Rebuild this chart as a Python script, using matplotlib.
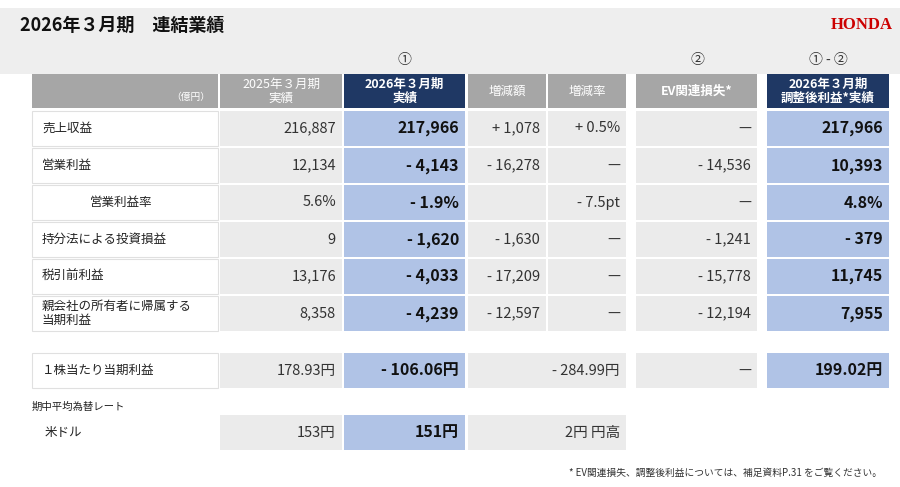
import matplotlib
matplotlib.use("Agg")
import matplotlib.pyplot as plt
from matplotlib.patches import Rectangle

plt.rcParams['font.family'] = ['Noto Sans CJK JP', 'DejaVu Sans']

title = "2026年３月期　連結業績"
headers = ["2025年３月期\n実績", "2026年３月期\n実績", "増減額", "増減率", "EV関連損失*", "2026年３月期\n調整後利益*実績"]
row_labels = ["売上収益", "営業利益", "営業利益率", "持分法による投資損益", "税引前利益", "親会社の所有者に帰属する\n当期利益"]
fy2025 = ["216,887", "12,134", "5.6%", "9", "13,176", "8,358"]
fy2026 = ["217,966", "- 4,143", "- 1.9%", "- 1,620", "- 4,033", "- 4,239"]
diff_amt = ["+ 1,078", "- 16,278", "", "- 1,630", "- 17,209", "- 12,597"]
diff_rate = ["+ 0.5%", "—", "- 7.5pt", "—", "—", "—"]
ev_loss = ["—", "- 14,536", "—", "- 1,241", "- 15,778", "- 12,194"]
adjusted = ["217,966", "10,393", "4.8%", "- 379", "11,745", "7,955"]
eps = ["178.93円", "- 106.06円", "- 284.99円", "—", "199.02円"]
fx = ["153円", "151円", "2円 円高"]

fig = plt.figure(figsize=(9, 4.87), dpi=100)
ax = fig.add_axes([0, 0, 1, 1])
ax.set_xlim(0, 900); ax.set_ylim(487, 0); ax.axis('off')

GRAY_H = "#a6a6a6"; NAVY = "#1f3864"; BODY = "#ebebeb"; BLUE = "#b0c3e6"

def rect(x0, y0, x1, y1, c, ec=None):
    ax.add_patch(Rectangle((x0, y0), x1 - x0, y1 - y0, facecolor=c, edgecolor=ec or 'none', lw=0.8))

# title band
rect(0, 8, 900, 74, "#eeeeee")
ax.text(20, 25, title, fontsize=13, fontweight='bold', va='center', color='#111')
ax.text(893, 25, "HONDA", fontsize=12, fontweight='bold', color='#cc0000', ha='right', va='center', family='Liberation Serif')
ax.text(404, 60, "①", fontsize=10, ha='center', va='center', color='#333')
ax.text(697, 60, "②", fontsize=10, ha='center', va='center', color='#333')
ax.text(828, 60, "① - ②", fontsize=10, ha='center', va='center', color='#333')

cols = [(220, 342), (344, 465), (468, 546), (548, 626), (636, 757), (767, 889)]
LX0, LX1 = 32, 218

# header
hy0, hy1 = 74, 108
rect(LX0, hy0, LX1, hy1, GRAY_H)
ax.text(210, 97, "（億円）", fontsize=7, color='white', ha='right', va='center')
for i, (x0, x1) in enumerate(cols):
    c = NAVY if i in (1, 5) else GRAY_H
    rect(x0, hy0, x1, hy1, c)
    ax.text((x0 + x1) / 2, (hy0 + hy1) / 2, headers[i], fontsize=9, color='white', ha='center', va='center',
            fontweight='bold' if i in (1, 4, 5) else 'normal', linespacing=1.1)

def vcell(i, y0, y1, txt, x1=None):
    x0, xe = cols[i]
    xe = x1 or xe
    blue = i in (1, 5)
    rect(x0, y0, xe, y1, BLUE if blue else BODY)
    if txt:
        ax.text(xe - 6, (y0 + y1) / 2, txt, fontsize=11.5 if blue else 10.5, ha='right', va='center',
                fontweight='bold' if blue else 'normal', color='#111' if blue else '#333')

series = [fy2025, fy2026, diff_amt, diff_rate, ev_loss, adjusted]
y = 111
for r, lab in enumerate(row_labels):
    y0, y1 = y, y + 35
    rect(LX0, y0, LX1, y1, "white", "#e0e0e0")
    ax.text(90 if r == 2 else 42, (y0 + y1) / 2, lab, fontsize=9, ha='left', va='center', color='#222', linespacing=1.1)
    for i in range(6):
        vcell(i, y0, y1, series[i][r])
    y += 37

# EPS row
y0, y1 = 353, 388
rect(LX0, y0, LX1, y1, "white", "#e0e0e0")
ax.text(42, (y0 + y1) / 2, "１株当たり当期利益", fontsize=9, ha='left', va='center', color='#222')
vcell(0, y0, y1, eps[0]); vcell(1, y0, y1, eps[1])
rect(468, y0, 546, y1, BODY); vcell(3, y0, y1, "")
rect(468, y0, 626, y1, BODY)
ax.text(620, (y0 + y1) / 2, eps[2], fontsize=10.5, ha='right', va='center', color='#333')
vcell(4, y0, y1, eps[3]); vcell(5, y0, y1, eps[4])

ax.text(32, 407, "期中平均為替レート", fontsize=7.5, ha='left', va='center', color='#222')
y0, y1 = 415, 450
ax.text(45, (y0 + y1) / 2, "米ドル", fontsize=9, ha='left', va='center', color='#222')
vcell(0, y0, y1, fx[0]); vcell(1, y0, y1, fx[1])
rect(468, y0, 626, y1, BODY)
ax.text(620, (y0 + y1) / 2, fx[2], fontsize=10.5, ha='right', va='center', color='#333')

ax.text(882, 473, "* EV関連損失、調整後利益については、補足資料P.31 をご覧ください。", fontsize=7, ha='right', va='center', color='#333')

fig.savefig("out.png", dpi=100)
